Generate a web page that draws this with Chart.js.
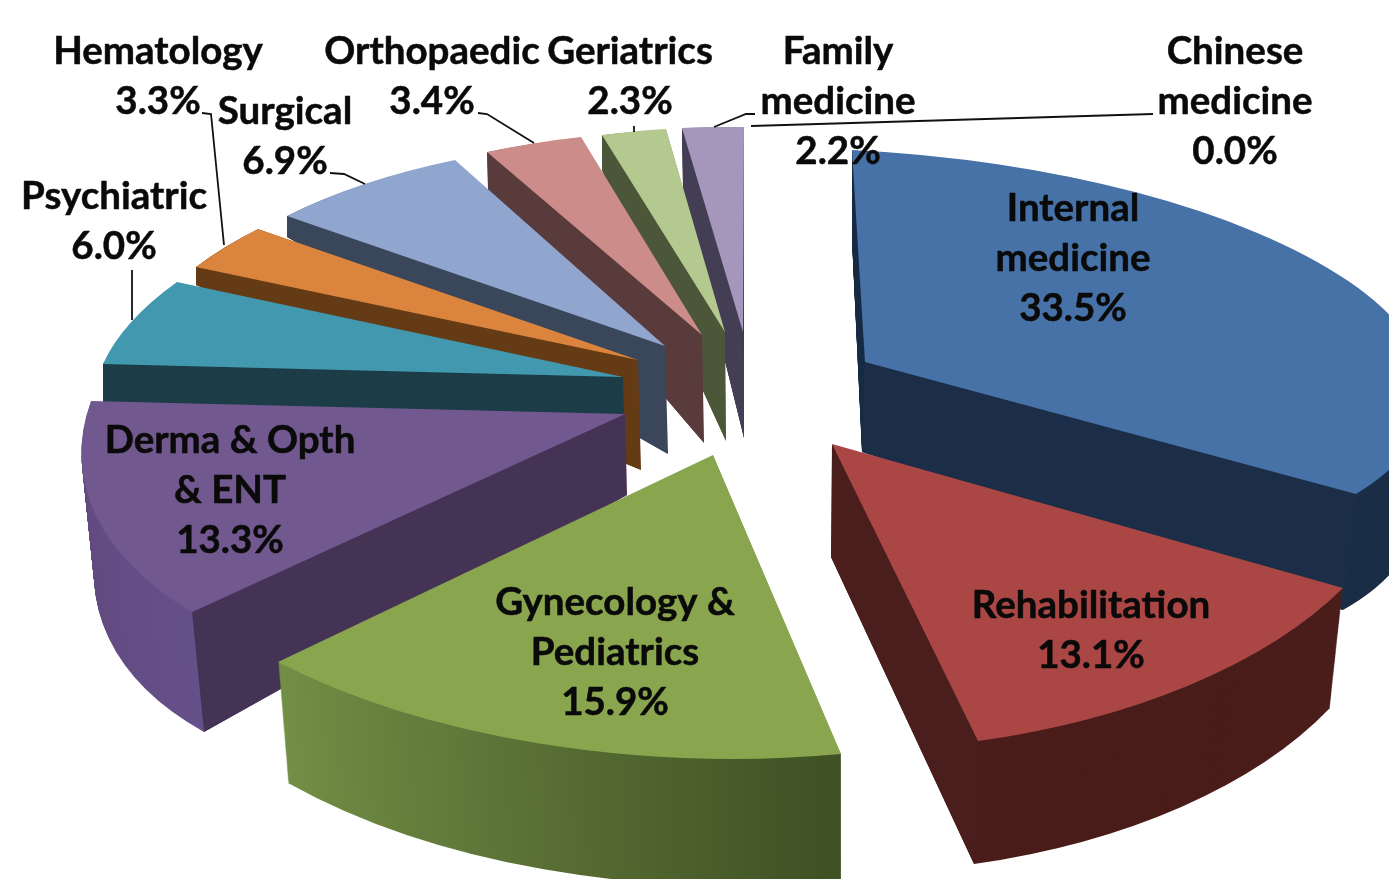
<!DOCTYPE html>
<html>
<head>
<meta charset="utf-8">
<style>html,body{margin:0;padding:0;background:#fff;overflow:hidden}canvas{display:block}</style>
<script src="https://cdn.jsdelivr.net/npm/chart.js@4"></script>
</head>
<body>
<canvas id="c" width="1389" height="879"></canvas>
<script>
const categories = ["Internal medicine","Rehabilitation","Gynecology & Pediatrics","Derma & Opth & ENT","Psychiatric","Hematology","Surgical","Orthopaedic","Geriatrics","Family medicine","Chinese medicine"];
const percentages = [33.5,13.1,15.9,13.3,6.0,3.3,6.9,3.4,2.3,2.2,0.0];
const topColors = ["#4672a8","#aa4643","#89a54e","#71588f","#4198af","#db843d","#90a6cf","#cc8c8a","#b3c98f","#a596bc","#cb8a5a"];
const outerWall = ["#1b2e47","#4a1d1b",["#738e45","#3f5024"],["#5f4779","#66508a"],"#1d3d48","#643b15","#3a475a","#5a3b3b","#4c5638","#443e55","#000"];
const sideWall  = ["#1c2e47","#4a1e1c",null,"#453355","#1c3c48","#643b15","#3a475a","#5a3b3b","#4c5638","#443e55",null];
const sideEdge  = ["end","end",null,"start","start","start","start","start","start","start",null];
const drawOrder = [9,8,7,6,5,4,3,0,2,1];
// 3D projection of each slice: apex, start rim, end rim of top face / bottom face
const topFace = [
 [[865,362],[852,150],[1356,494]],
 [[832,444],[1343,588],[978,741]],
 [[713,455],[841,754],[278,662]],
 [[625,414],[192,612],[91,401]],
 [[623,377],[103,364],[177,282]],
 [[638,360],[196,267],[258,229]],
 [[665,346],[287,216],[455,160]],
 [[702,335],[487,152],[581,137]],
 [[725,332],[602,135],[666,129]],
 [[743,332],[682,128],[744,127]],
 null];
const bottomFace = [
 [[862,452],[852,240],[1343,610]],
 [[831,557],[1330,708],[974,864]],
 [[713,560],[841,880],[288,783]],
 [[627,495],[204,732],[103,520]],
 [[624,417],[103,404],[177,318]],
 [[641,470],[196,285],[258,250]],
 [[668,454],[287,237],[455,262]],
 [[704,443],[488,190],[581,240]],
 [[726,441],[602,170],[666,232]],
 [[744,438],[683,190],[744,235]],
 null];
const labelLines = [["Internal","medicine"],["Rehabilitation"],["Gynecology &","Pediatrics"],["Derma & Opth","& ENT"],["Psychiatric"],["Hematology"],["Surgical"],["Orthopaedic"],["Geriatrics"],["Family","medicine"],["Chinese","medicine"]];
const labelAnchors = [[1073,221],[1091,618],[615,615],[230,453],[114,209],[158,64],[285,124],[432,64],[630,64],[838,64],[1235,64]];
const leaderLines = [
 [[202,113],[211,114],[224,245]],
 [[478,113],[487,114],[534,143]],
 [[330,173],[344,174],[365,184]],
 [[132,270],[132,320]],
 [[634,126],[634,132]],
 [[755,114],[746,114],[714,127]],
 [[1153,114],[751,126]]
];
const LINE_HEIGHT = 50;
const FONT = 'bold 38.5px Lato, "Open Sans", sans-serif';

function lerpPt(a,b,t){return [a[0]+(b[0]-a[0])*t,a[1]+(b[1]-a[1])*t];}
function applyFace(ctx,arc,face){
  const s=arc.startAngle,e=arc.endAngle,R=arc.outerRadius,cx=arc.x,cy=arc.y;
  const ax=R*Math.cos(s),ay=R*Math.sin(s),bx=R*Math.cos(e),by=R*Math.sin(e);
  const det=ax*by-bx*ay;
  const px=face[1][0]-face[0][0],py=face[1][1]-face[0][1];
  const qx=face[2][0]-face[0][0],qy=face[2][1]-face[0][1];
  const l11=(px*by-qx*ay)/det,l12=(-px*bx+qx*ax)/det;
  const l21=(py*by-qy*ay)/det,l22=(-py*bx+qy*ax)/det;
  ctx.transform(l11,l21,l12,l22,face[0][0]-l11*cx-l12*cy,face[0][1]-l21*cx-l22*cy);
}
const pie3d = {
  id:'pie3d',
  beforeDatasetsDraw(chart){
    const ctx=chart.ctx, meta=chart.getDatasetMeta(0);
    drawOrder.forEach(i=>{
      const arc=meta.data[i], top=topFace[i], bot=bottomFace[i];
      if(!top) return;
      const orig=arc.options.backgroundColor;
      const wall=outerWall[i], steps=Math.round(Math.max(...top.map((p,k)=>bot[k][1]-p[1])));
      for(let n=steps;n>0;n--){
        const t=n/steps, face=top.map((p,k)=>lerpPt(p,bot[k],t));
        ctx.save();
        applyFace(ctx,arc,face);
        if(Array.isArray(wall)){
          const R=arc.outerRadius;
          const g=ctx.createLinearGradient(arc.x+R*Math.cos(arc.endAngle),arc.y+R*Math.sin(arc.endAngle),arc.x+R*Math.cos(arc.startAngle),arc.y+R*Math.sin(arc.startAngle));
          g.addColorStop(0,wall[0]);g.addColorStop(1,wall[1]);
          arc.options.backgroundColor=g;
        } else arc.options.backgroundColor=wall;
        arc.draw(ctx);
        ctx.restore();
      }
      if(sideWall[i]){
        const k=sideEdge[i]==='start'?1:2;
        ctx.fillStyle=sideWall[i];
        ctx.beginPath();
        ctx.moveTo(...top[0]);ctx.lineTo(...top[k]);ctx.lineTo(...bot[k]);ctx.lineTo(...bot[0]);
        ctx.closePath();ctx.fill();
      }
      arc.options.backgroundColor=orig;
      ctx.save();
      applyFace(ctx,arc,top);
      arc.draw(ctx);
      ctx.restore();
    });
    return false;
  },
  afterDraw(chart){
    const ctx=chart.ctx;
    ctx.save();
    ctx.strokeStyle='#111';ctx.lineWidth=1.8;
    leaderLines.forEach(l=>{ctx.beginPath();l.forEach((p,i)=>i?ctx.lineTo(...p):ctx.moveTo(...p));ctx.stroke();});
    ctx.fillStyle='#0a0a0a';ctx.strokeStyle='#0a0a0a';ctx.lineWidth=0.5;ctx.lineJoin='round';
    ctx.font=FONT;ctx.textAlign='center';ctx.textBaseline='alphabetic';
    categories.forEach((c,i)=>{
      const [x,y]=labelAnchors[i];
      const lines=[...labelLines[i],percentages[i].toFixed(1)+'%'];
      lines.forEach((t,k)=>{ctx.fillText(t,x,y+k*LINE_HEIGHT);ctx.strokeText(t,x,y+k*LINE_HEIGHT);});
    });
    ctx.restore();
  }
};
new Chart(document.getElementById('c'),{
  type:'pie',
  data:{labels:categories,datasets:[{data:percentages,backgroundColor:topColors,borderWidth:0}]},
  options:{responsive:false,animation:false,rotation:0,
    layout:{padding:0},
    plugins:{legend:{display:false},tooltip:{enabled:false}}},
  plugins:[pie3d]
});
</script>
</body>
</html>
